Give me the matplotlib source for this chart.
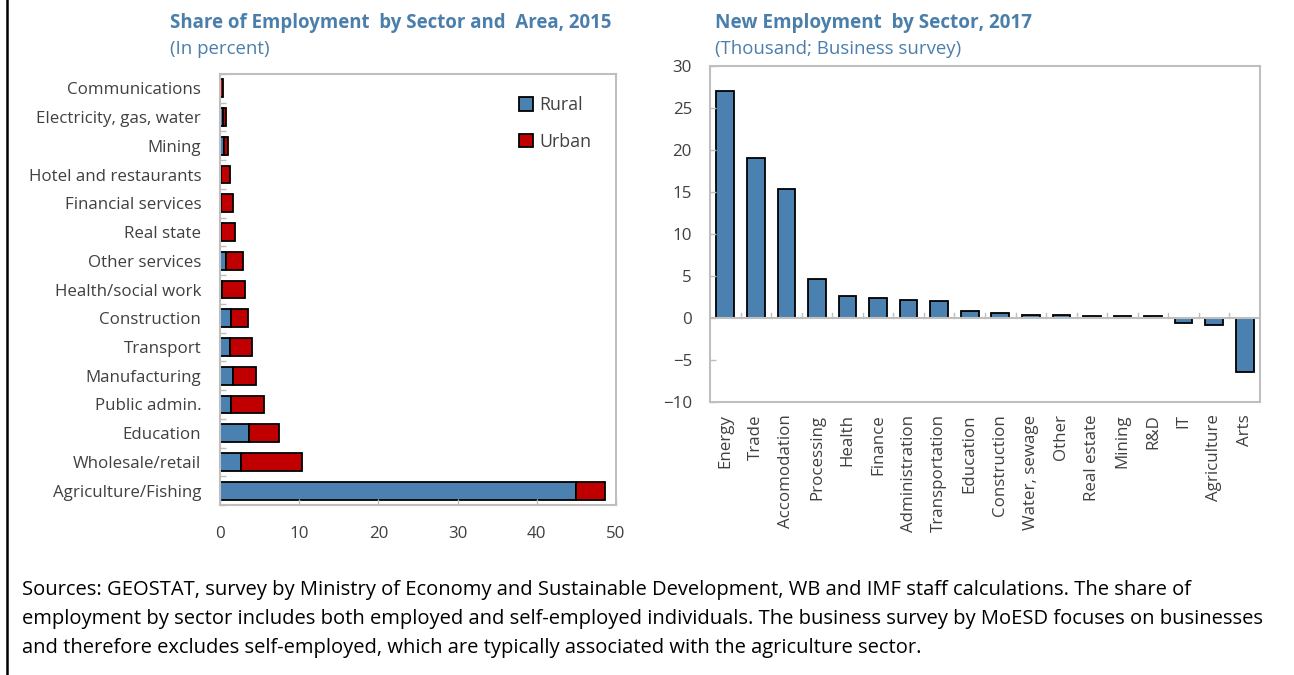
import matplotlib
matplotlib.use("Agg")
import matplotlib.pyplot as plt
from matplotlib.patches import Patch
from matplotlib.lines import Line2D
import numpy as np

plt.rcParams['font.family'] = ['Open Sans', 'DejaVu Sans']

# Share of employment by sector and area, 2015 (percent)
sectors_left = ["Communications", "Electricity, gas, water", "Mining", "Hotel and restaurants",
                "Financial services", "Real state", "Other services", "Health/social work",
                "Construction", "Transport", "Manufacturing", "Public admin.", "Education",
                "Wholesale/retail", "Agriculture/Fishing"]
rural = [0.05, 0.4, 0.5, 0.1, 0.1, 0.1, 0.8, 0.3, 1.4, 1.2, 1.6, 1.4, 3.7, 2.7, 45.0]
urban = [0.3, 0.4, 0.5, 1.2, 1.5, 1.75, 2.1, 2.8, 2.1, 2.9, 3.0, 4.2, 3.8, 7.6, 3.6]

# New employment by sector, 2017 (thousand)
sectors_right = ["Energy", "Trade", "Accomodation", "Processing", "Health", "Finance",
                 "Administration", "Transportation", "Education", "Construction",
                 "Water, sewage", "Other", "Real estate", "Mining", "R&D", "IT",
                 "Agriculture", "Arts"]
new_emp = [27.0, 19.1, 15.3, 4.6, 2.6, 2.4, 2.2, 2.0, 0.8, 0.6, 0.4, 0.4, 0.25, 0.25, 0.25,
           -0.6, -0.8, -6.4]

BLUE = "#4A81B1"
RED = "#C00000"
TITLE = "#4A7EAB"
SPINE = "#BFBFBF"
TXT = "#404040"
TICK_FS = 12.2

W, H = 1294, 675
fig = plt.figure(figsize=(W / 100, H / 100), dpi=100)

def rect(x0, y0, x1, y1):
    return [x0 / W, 1 - y1 / H, (x1 - x0) / W, (y1 - y0) / H]

# ---- left panel: stacked horizontal bars ----
ax1 = fig.add_axes(rect(220, 74, 616, 505))
y = np.arange(len(sectors_left))[::-1]
ax1.barh(y, rural, height=0.62, color=BLUE, edgecolor="black", linewidth=1.3, label="Rural")
ax1.barh(y, urban, left=rural, height=0.62, color=RED, edgecolor="black", linewidth=1.3,
         label="Urban")
ax1.set_xlim(0, 50)
ax1.set_ylim(-0.5, len(sectors_left) - 0.5)
ax1.set_xticks(np.arange(0, 51, 10))
ax1.set_yticks(y)
ax1.set_yticklabels(sectors_left)
ax1.set_yticks(np.arange(-0.5, len(sectors_left), 1), minor=True)
ax1.tick_params(axis="y", which="major", length=0, pad=13.5, labelsize=TICK_FS, labelcolor=TXT)
ax1.tick_params(axis="y", which="minor", length=4, direction="in", color=SPINE, width=1)
ax1.tick_params(axis="x", length=4, direction="in", color=SPINE, width=1, labelsize=TICK_FS,
                labelcolor=TXT, pad=15)
for s in ax1.spines.values():
    s.set_color(SPINE)
    s.set_linewidth(1.5)

handles = [Patch(facecolor=BLUE, edgecolor="black", linewidth=1.3),
           Patch(facecolor=RED, edgecolor="black", linewidth=1.3)]
leg = ax1.legend(handles, ["Rural", "Urban"], loc="upper left",
                 bbox_to_anchor=((519 - 220) / 396, 1 - (96 - 74) / 431),
                 frameon=False, fontsize=12.8, handlelength=0.8, handleheight=0.8,
                 handletextpad=0.35, labelspacing=1.05, borderaxespad=0, borderpad=0)
for t in leg.get_texts():
    t.set_color(TXT)

fig.text(170 / W, 1 - 23 / H, "Share of Employment  by Sector and  Area, 2015",
         fontsize=13.4, fontweight="bold", color=TITLE, va="center", ha="left")
fig.text(170 / W, 1 - 49 / H, "(In percent)", fontsize=13.4, color=TITLE, va="center",
         ha="left")

# ---- right panel: vertical bars ----
ax2 = fig.add_axes(rect(710, 66, 1260, 402))
x = np.arange(len(sectors_right))
ax2.bar(x, new_emp, width=0.58, color=BLUE, edgecolor="black", linewidth=1.3)
ax2.set_xlim(-0.5, len(sectors_right) - 0.5)
ax2.set_ylim(-10, 30)
ax2.set_yticks(np.arange(-10, 31, 5))
ax2.set_xticks(x)
ax2.set_xticklabels(sectors_right, rotation=90)
ax2.tick_params(axis="x", length=0, pad=9, labelsize=TICK_FS, labelcolor=TXT)
ax2.tick_params(axis="y", length=4, direction="in", color=SPINE, width=1, labelsize=TICK_FS,
                labelcolor=TXT, pad=13)
ax2.axhline(0, color=SPINE, linewidth=1.5, zorder=1)
for xb in np.arange(0.5, len(sectors_right) - 1, 1):
    ax2.plot([xb, xb], [0, 0.6], color=SPINE, linewidth=1, zorder=1)
for s in ax2.spines.values():
    s.set_color(SPINE)
    s.set_linewidth(1.5)

fig.text(715 / W, 1 - 23 / H, "New Employment  by Sector, 2017", fontsize=13.6,
         fontweight="bold", color=TITLE, va="center", ha="left")
fig.text(715 / W, 1 - 49 / H, "(Thousand; Business survey)", fontsize=13.4, color=TITLE,
         va="center", ha="left")

# ---- footnote ----
notes = ["Sources: GEOSTAT, survey by Ministry of Economy and Sustainable Development, WB and IMF staff calculations. The share of",
         "employment by sector includes both employed and self-employed individuals. The business survey by MoESD focuses on businesses",
         "and therefore excludes self-employed, which are typically associated with the agriculture sector."]
for i, line in enumerate(notes):
    fig.text(22 / W, 1 - (590 + 29 * i) / H, line, fontsize=14.5, color="black",
             va="center", ha="left")

# left frame line of the page
fig.add_artist(Line2D([7 / W, 7 / W], [0, 1], color="black", linewidth=1.8))

fig.savefig("out.png", dpi=100)
